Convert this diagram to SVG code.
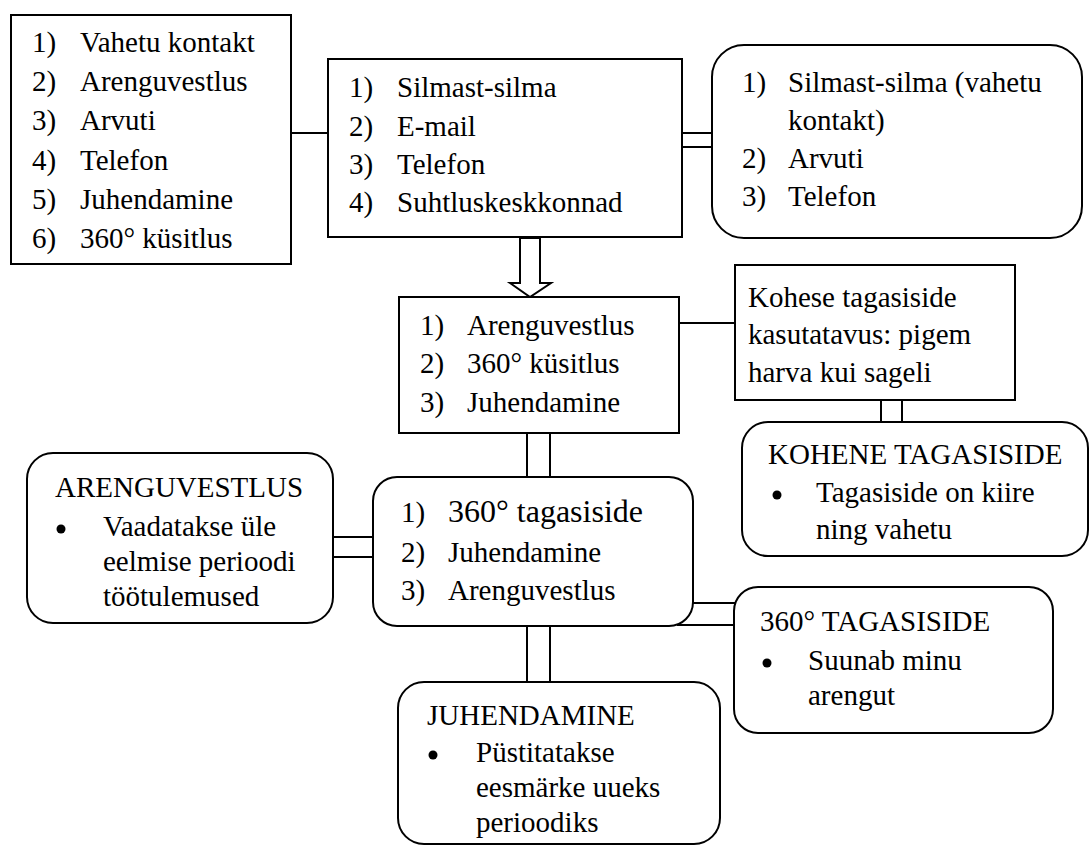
<svg xmlns="http://www.w3.org/2000/svg" width="1091" height="845" viewBox="0 0 1091 845">
  <style>
    .box { fill: #ffffff; stroke: #000000; stroke-width: 2; }
    .wire { fill: none; stroke: #000000; stroke-width: 2; }
    text { font-family: "Liberation Serif", "Times New Roman", serif; font-size: 29px; fill: #000000; }
    .big { font-size: 32px; }
    .dot { fill: #000000; }
  </style>
  <rect width="1091" height="845" fill="#ffffff"/>

  <!-- connectors -->
  <g id="connectors">
    <line class="wire" x1="290" y1="133" x2="328" y2="133"/>
    <line class="wire" x1="682" y1="133" x2="712" y2="133"/>
    <line class="wire" x1="682" y1="147" x2="712" y2="147"/>
    <polygon class="box" stroke-width="1.6" points="520,238 540,238 540,283 551,283 530,297 510,283 520,283"/>
    <line class="wire" x1="679" y1="323" x2="735" y2="323"/>
    <line class="wire" x1="881" y1="400" x2="881" y2="422"/>
    <line class="wire" x1="902" y1="400" x2="902" y2="422"/>
    <line class="wire" x1="527" y1="433" x2="527" y2="477"/>
    <line class="wire" x1="550" y1="433" x2="550" y2="477"/>
    <line class="wire" x1="333" y1="537" x2="373" y2="537"/>
    <line class="wire" x1="333" y1="557" x2="373" y2="557"/>
    <line class="wire" x1="693" y1="603" x2="735" y2="603"/>
    <line class="wire" x1="677" y1="625" x2="739" y2="625"/>
    <line class="wire" x1="527" y1="626" x2="527" y2="682"/>
    <line class="wire" x1="550" y1="626" x2="550" y2="682"/>
  </g>

  <g id="kanalid">
    <rect class="box" x="11" y="15" width="280" height="249"/>
    <text x="32" y="52">1)</text><text x="80" y="52">Vahetu kontakt</text>
    <text x="32" y="91">2)</text><text x="80" y="91">Arenguvestlus</text>
    <text x="32" y="130">3)</text><text x="80" y="130">Arvuti</text>
    <text x="32" y="170">4)</text><text x="80" y="170">Telefon</text>
    <text x="32" y="209">5)</text><text x="80" y="209">Juhendamine</text>
    <text x="32" y="248">6)</text><text x="80" y="248">360° küsitlus</text>
  </g>

  <g id="suhtlusviisid">
    <rect class="box" x="328" y="59" width="354" height="178"/>
    <text x="349" y="97">1)</text><text x="397" y="97">Silmast-silma</text>
    <text x="349" y="136">2)</text><text x="397" y="136">E-mail</text>
    <text x="349" y="174">3)</text><text x="397" y="174">Telefon</text>
    <text x="349" y="212">4)</text><text x="397" y="212">Suhtluskeskkonnad</text>
  </g>

  <g id="eelistatud">
    <rect class="box" x="712" y="45" width="370" height="193" rx="32" ry="32"/>
    <text x="742" y="92">1)</text><text x="788" y="92">Silmast-silma (vahetu</text>
    <text x="788" y="130">kontakt)</text>
    <text x="742" y="168">2)</text><text x="788" y="168">Arvuti</text>
    <text x="742" y="206">3)</text><text x="788" y="206">Telefon</text>
  </g>

  <g id="tagasiside-viisid">
    <rect class="box" x="399" y="297" width="280" height="136"/>
    <text x="420" y="335">1)</text><text x="467" y="335">Arenguvestlus</text>
    <text x="420" y="373">2)</text><text x="467" y="373">360° küsitlus</text>
    <text x="420" y="412">3)</text><text x="467" y="412">Juhendamine</text>
  </g>

  <g id="kohese-kasutatavus">
    <rect class="box" x="735" y="265" width="280" height="135"/>
    <text x="748" y="307">Kohese tagasiside</text>
    <text x="748" y="344">kasutatavus: pigem</text>
    <text x="748" y="382">harva kui sageli</text>
  </g>

  <g id="kohene-tagasiside">
    <rect class="box" x="742" y="422" width="346" height="134" rx="26" ry="26"/>
    <text x="768" y="464">KOHENE TAGASISIDE</text>
    <circle class="dot" cx="777" cy="495" r="4.5"/>
    <text x="816" y="502">Tagasiside on kiire</text>
    <text x="816" y="539">ning vahetu</text>
  </g>

  <g id="tagasiside-liigid">
    <rect class="box" x="373" y="477" width="320" height="149" rx="24" ry="24"/>
    <text x="401" y="522">1)</text><text class="big" x="448" y="522">360° tagasiside</text>
    <text x="401" y="562">2)</text><text x="448" y="562">Juhendamine</text>
    <text x="401" y="600">3)</text><text x="448" y="600">Arenguvestlus</text>
  </g>

  <g id="arenguvestlus">
    <rect class="box" x="27" y="453" width="306" height="170" rx="26" ry="26"/>
    <text x="55" y="497">ARENGUVESTLUS</text>
    <circle class="dot" cx="61" cy="529" r="4.5"/>
    <text x="103" y="536">Vaadatakse üle</text>
    <text x="103" y="571">eelmise perioodi</text>
    <text x="103" y="606">töötulemused</text>
  </g>

  <g id="tagasiside-360">
    <rect class="box" x="734" y="587" width="319" height="146" rx="24" ry="24"/>
    <text x="760" y="631">360° TAGASISIDE</text>
    <circle class="dot" cx="767" cy="663" r="4.5"/>
    <text x="808" y="670">Suunab minu</text>
    <text x="808" y="705">arengut</text>
  </g>

  <g id="juhendamine">
    <rect class="box" x="398" y="682" width="322" height="162" rx="26" ry="26"/>
    <text x="427" y="725">JUHENDAMINE</text>
    <circle class="dot" cx="433" cy="755" r="4.5"/>
    <text x="476" y="762">Püstitatakse</text>
    <text x="476" y="797">eesmärke uueks</text>
    <text x="476" y="832">perioodiks</text>
  </g>
</svg>
